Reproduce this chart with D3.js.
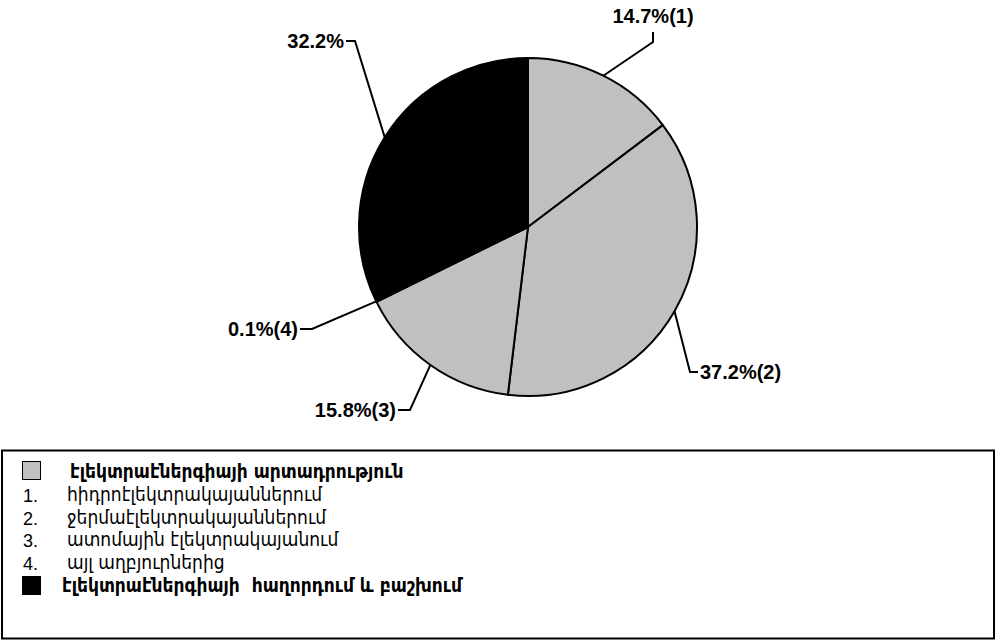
<!DOCTYPE html>
<html>
<head>
<meta charset="utf-8">
<script src="https://cdn.jsdelivr.net/npm/d3@7"></script>
<style>
  body { margin: 0; background: #fff; }
  svg { display: block; }
</style>
</head>
<body>
<svg width="997" height="641"></svg>
<script>
/* ===============================
   Data
   =============================== */
let sliceValues = [14.7, 37.2, 15.8, 0.1, 32.2];
let sliceLabels = ["14.7%(1)", "37.2%(2)", "15.8%(3)", "0.1%(4)", "32.2%"];
let sliceGroups = ["prod", "prod", "prod", "prod", "trans"];

let legendNumbers = ["1.", "2.", "3.", "4."];
let legendItems = [
    "հիդրոէլեկտրակայաններում",
    "ջերմաէլեկտրակայաններում",
    "ատոմային էլեկտրակայանում",
    "այլ աղբյուրներից"
];
let legendHeads = [
    "էլեկտրաէներգիայի արտադրություն",
    "էլեկտրաէներգիայի  հաղորդում և բաշխում"
];

/* ===============================
   Layout
   =============================== */
let cx = 528, cy = 227, radius = 169;
let labelFont = "bold 20px 'Liberation Sans', Arial, sans-serif";

// elbow point and text anchor for every label (same order as slices)
let labelLayout = [
    { ex: 653, ey: 42, tx: 653, ty: 32, dir: "up" },
    { ex: 690, ey: 372, tx: 698, ty: 372, dir: "right" },
    { ex: 410, ey: 410, tx: 398, ty: 410, dir: "left" },
    { ex: 312, ey: 329, tx: 300, ty: 329, dir: "left" },
    { ex: 355, ey: 41, tx: 346, ty: 41, dir: "left" }
];

let color = d3.scaleOrdinal()
    .domain(["prod", "trans"])
    .range(["#c0c0c0", "#000000"]);

let svg = d3.select("svg");

/* ===============================
   Pie
   =============================== */
let pie = d3.pie().sort(null).value(d => d);
let arcs = pie(sliceValues);

let arc = d3.arc().innerRadius(0).outerRadius(radius);

let pieG = svg.append("g")
    .attr("transform", `translate(${cx},${cy})`);

pieG.selectAll("path.slice")
    .data(arcs)
    .join("path")
    .attr("class", "slice")
    .attr("d", arc)
    .attr("fill", (d, i) => color(sliceGroups[i]))
    .attr("stroke", "#000")
    .attr("stroke-width", 2)
    .attr("stroke-linejoin", "round");

/* ===============================
   Leader lines + labels
   =============================== */
arcs.forEach((d, i) => {
    let mid = (d.startAngle + d.endAngle) / 2;
    let px = cx + radius * Math.sin(mid);
    let py = cy - radius * Math.cos(mid);
    let L = labelLayout[i];

    svg.append("polyline")
        .attr("points", `${px},${py} ${L.ex},${L.ey} ${L.tx},${L.ty}`)
        .attr("fill", "none")
        .attr("stroke", "#000")
        .attr("stroke-width", 2);

    let t = svg.append("text")
        .style("font", labelFont)
        .attr("fill", "#000")
        .text(sliceLabels[i]);

    if (L.dir === "up") {
        t.attr("x", L.tx).attr("y", L.ty - 9).attr("text-anchor", "middle");
    } else if (L.dir === "right") {
        t.attr("x", L.tx + 2).attr("y", L.ty + 7).attr("text-anchor", "start");
    } else {
        t.attr("x", L.tx - 2).attr("y", L.ty + 7).attr("text-anchor", "end");
    }
});

/* ===============================
   Legend box
   =============================== */
svg.append("rect")
    .attr("x", 2)
    .attr("y", 450.5)
    .attr("width", 992)
    .attr("height", 188)
    .attr("fill", "#fff")
    .attr("stroke", "#000")
    .attr("stroke-width", 2);

let legendFont = "'DejaVu Sans Condensed', 'DejaVu Sans', sans-serif";
let rowY = d3.scaleLinear().domain([0, 5]).range([472, 586]);

// head 1 (grey square)
svg.append("rect")
    .attr("x", 22.5).attr("y", rowY(0) - 10.5)
    .attr("width", 18).attr("height", 18)
    .attr("fill", color("prod"))
    .attr("stroke", "#000").attr("stroke-width", 1);

svg.append("text")
    .attr("x", 70).attr("y", rowY(0) + 6)
    .style("font-family", legendFont)
    .style("font-size", "19px")
    .style("font-weight", "bold")
    .text(legendHeads[0]);

legendItems.forEach((s, i) => {
    svg.append("text")
        .attr("x", 23).attr("y", rowY(i + 1) + 7)
        .style("font", "18px 'Liberation Sans', Arial, sans-serif")
        .text(legendNumbers[i]);
    svg.append("text")
        .attr("x", 67).attr("y", rowY(i + 1) + 6)
        .style("font-family", legendFont)
        .style("font-size", "19px")
        .text(s);
});

// head 2 (black square)
svg.append("rect")
    .attr("x", 22).attr("y", rowY(5) - 10)
    .attr("width", 19).attr("height", 19)
    .attr("fill", color("trans"));

svg.append("text")
    .attr("x", 62).attr("y", rowY(5) + 6)
    .style("font-family", legendFont)
    .style("font-size", "19px")
    .style("font-weight", "bold")
    .style("white-space", "pre")
    .text(legendHeads[1]);
</script>
</body>
</html>
